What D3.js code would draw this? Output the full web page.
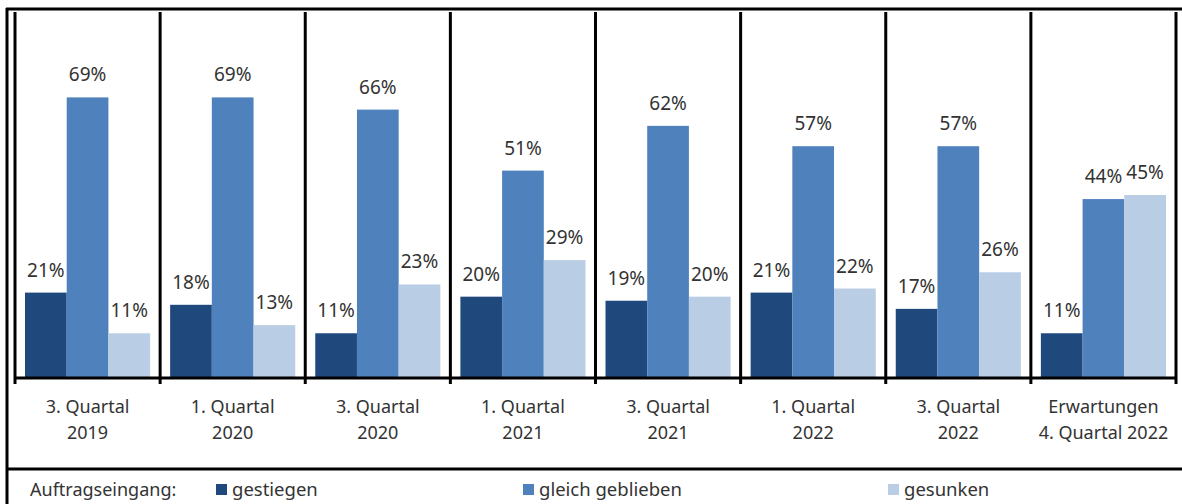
<!DOCTYPE html>
<html><head><meta charset="utf-8">
<script src="https://cdn.jsdelivr.net/npm/d3@7"></script>
<style>body{margin:0;background:#fff}svg{display:block}text{font-family:"Noto Sans",sans-serif;fill:#333}</style>
</head><body><svg id="c" width="1182" height="504"></svg>
<script>
const categories = ["3. Quartal|2019","1. Quartal|2020","3. Quartal|2020","1. Quartal|2021","3. Quartal|2021","1. Quartal|2022","3. Quartal|2022","Erwartungen|4. Quartal 2022"];
const series = ["gestiegen","gleich geblieben","gesunken"];
const gestiegen = [21,18,11,20,19,21,17,11];
const gleich = [69,69,66,51,62,57,57,44];
const gesunken = [11,13,23,29,20,22,26,45];
const legendTitle = "Auftragseingang:";
const colors = ["#1f497d","#4f81bd","#b9cde5"];
const values = [gestiegen, gleich, gesunken];

(function(){
const svg = d3.select("#c");
const left = 15, right = 1176, base = 378, plotTop = 12;
const x0 = d3.scaleBand().domain(categories).range([left, right]).padding(0);
const x1 = d3.scaleBand().domain(series).range([0, x0.bandwidth()]).paddingInner(0).paddingOuter(0.24);
const y = d3.scaleLinear().domain([0, 90]).range([base, plotTop]);
const color = d3.scaleOrdinal().domain(series).range(colors);

series.forEach((s, si) => {
  const g = svg.append("g");
  g.selectAll("rect").data(categories).join("rect")
    .attr("x", c => x0(c) + x1(s))
    .attr("y", (c, i) => y(values[si][i]))
    .attr("width", x1.bandwidth())
    .attr("height", (c, i) => base - y(values[si][i]))
    .attr("fill", color(s));
  g.selectAll("text").data(categories).join("text")
    .attr("x", c => x0(c) + x1(s) + x1.bandwidth() / 2)
    .attr("y", (c, i) => y(values[si][i]) - 16)
    .attr("text-anchor", "middle")
    .style("font-size", "19px")
    .text((c, i) => values[si][i] + "%");
});

const bounds = categories.map(c => x0(c)).concat([right]);
svg.append("g").selectAll("line").data(bounds).join("line")
  .attr("x1", d => d).attr("x2", d => d)
  .attr("y1", plotTop).attr("y2", base + 6)
  .attr("stroke", "#000").attr("stroke-width", 3);
svg.append("line").attr("x1", left).attr("x2", right).attr("y1", base).attr("y2", base)
  .attr("stroke", "#000").attr("stroke-width", 3);

const cl = svg.append("g").selectAll("text").data(categories).join("text")
  .attr("x", c => x0(c) + x0.bandwidth() / 2)
  .attr("y", 413)
  .attr("text-anchor", "middle")
  .style("font-size", "18px");
cl.each(function(c) {
  const parts = c.split("|");
  d3.select(this).selectAll("tspan").data(parts).join("tspan")
    .attr("x", x0(c) + x0.bandwidth() / 2)
    .attr("dy", (p, i) => i === 0 ? 0 : 26)
    .text(p => p);
});

svg.append("line").attr("x1", 6).attr("x2", 1182).attr("y1", 9).attr("y2", 9).attr("stroke", "#000").attr("stroke-width", 3);
svg.append("line").attr("x1", 7).attr("x2", 7).attr("y1", 8).attr("y2", 504).attr("stroke", "#000").attr("stroke-width", 3);
svg.append("line").attr("x1", 6).attr("x2", 1182).attr("y1", 469).attr("y2", 469).attr("stroke", "#000").attr("stroke-width", 3);

const ly = 496;
svg.append("text").attr("x", 30).attr("y", ly).style("font-size", "18px").text(legendTitle);
const legX = [216, 523, 888];
series.forEach((s, i) => {
  svg.append("rect").attr("x", legX[i]).attr("y", ly - 12).attr("width", 11).attr("height", 11).attr("fill", color(s));
  svg.append("text").attr("x", legX[i] + 16).attr("y", ly).style("font-size", "18.5px").text(s);
});
})();
</script></body></html>
